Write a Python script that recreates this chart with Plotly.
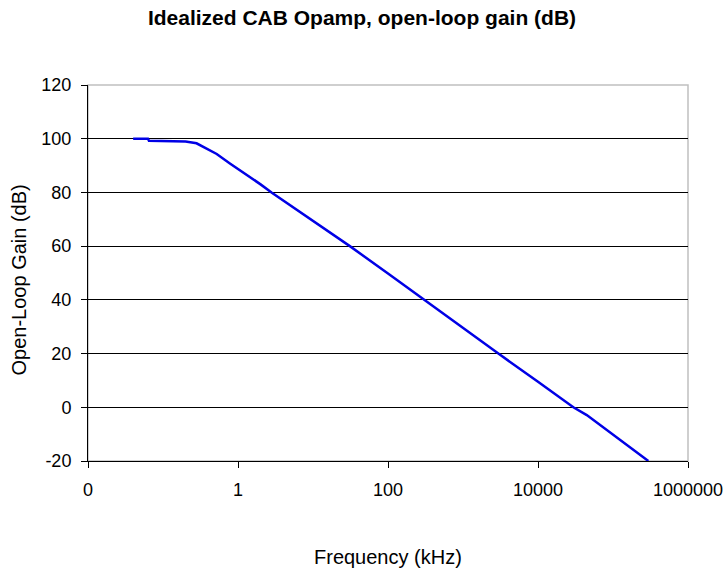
import plotly.graph_objects as go

# Data
freq_khz = [0.04, 0.063, 0.065, 0.1, 0.2, 0.28, 0.38, 0.52, 0.78, 1, 1.6, 2.0, 2.8,
            10, 31, 100, 302, 1000, 2960, 10000, 29600, 44700, 100000, 296000]
gain_db = [100, 100, 99.2, 99.2, 99.0, 98.3, 96.3, 94.3, 90.8, 88.8, 85.0, 83.0, 80,
           69.4, 60, 49.8, 40, 29.6, 20, 9.5, 0, -2.9, -10.2, -20]

x_tickvals = [0.01, 1, 100, 10000, 1000000]
x_ticktext = ["0", "1", "100", "10000", "1000000"]
y_tickvals = [-20, 0, 20, 40, 60, 80, 100, 120]
y_ticktext = ["-20", "0", "20", "40", "60", "80", "100", "120"]

FONT = "Liberation Sans, Arial, sans-serif"

fig = go.Figure()
fig.add_trace(go.Scatter(
    x=freq_khz, y=gain_db, mode="lines",
    line=dict(color="#0000E6", width=2.5),
    showlegend=False,
))

fig.update_layout(
    width=727, height=574,
    margin=dict(l=88, r=39, t=85, b=113),
    paper_bgcolor="white", plot_bgcolor="white",
    font=dict(family=FONT, color="#000000", size=18),
    title=dict(
        text="<b>Idealized CAB Opamp, open-loop gain (dB)</b>",
        x=362 / 727, xref="container", xanchor="center",
        y=1 - 18 / 574, yref="container", yanchor="middle",
        font=dict(family=FONT, size=21, color="#000000"),
    ),
    showlegend=False,
)

fig.update_xaxes(
    type="log", range=[-2, 6], automargin=False,
    tickmode="array", tickvals=x_tickvals, ticktext=x_ticktext,
    showgrid=False, zeroline=False,
    showline=True, linecolor="#000000", linewidth=1,
    ticks="outside", ticklen=6, tickcolor="#000000", tickwidth=1,
    tickfont=dict(family=FONT, size=18, color="#000000"),
    ticklabelstandoff=6,
)
fig.update_yaxes(
    range=[-20, 120], automargin=False,
    tickmode="array", tickvals=y_tickvals, ticktext=y_ticktext,
    showgrid=True, gridcolor="#000000", gridwidth=1,
    zeroline=False,
    showline=True, linecolor="#000000", linewidth=1,
    ticks="outside", ticklen=6, tickcolor="#000000", tickwidth=1,
    tickfont=dict(family=FONT, size=18, color="#000000"),
    ticklabelstandoff=6,
)

# light grey plot-area border (top and right)
fig.add_shape(type="rect", xref="paper", yref="paper", x0=0, y0=0, x1=1, y1=1,
              line=dict(color="#C0C0C0", width=1.5), layer="between")

fig.add_annotation(text="Frequency (kHz)", xref="paper", yref="paper",
                   x=0.5, y=(461 - 556.5) / 376,
                   xanchor="center", yanchor="middle",
                   showarrow=False, font=dict(family=FONT, size=20, color="#000000"))
fig.add_annotation(text="Open-Loop Gain (dB)", xref="paper", yref="paper",
                   x=(18.5 - 88) / 600, y=(461 - 280) / 376,
                   xanchor="center", yanchor="middle",
                   textangle=-90, showarrow=False,
                   font=dict(family=FONT, size=20, color="#000000"))

fig.write_html("out.html", config={"displayModeBar": False},
               post_script="document.body.style.margin='0';")
